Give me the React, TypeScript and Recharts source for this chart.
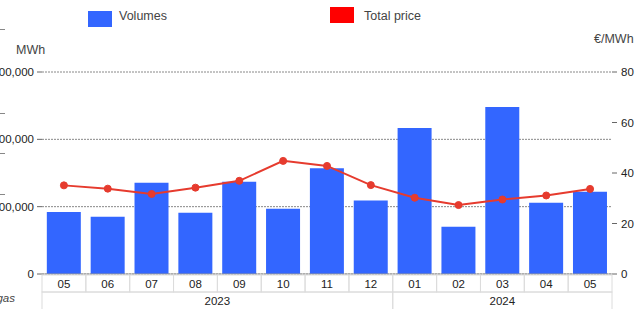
import React from "react";
import {
  ComposedChart,
  Bar,
  Line,
  XAxis,
  YAxis,
  CartesianGrid,
} from "recharts";

const months = ["05", "06", "07", "08", "09", "10", "11", "12", "01", "02", "03", "04", "05"];
const years = ["2023", "2023", "2023", "2023", "2023", "2023", "2023", "2023", "2024", "2024", "2024", "2024", "2024"];
const volumes = [92000, 85000, 135500, 91000, 137000, 97000, 157000, 109000, 217000, 70000, 248000, 106000, 122000];
const prices = [35.1, 33.8, 31.7, 34.2, 36.9, 44.8, 42.8, 35.2, 30.2, 27.3, 29.5, 31.1, 33.7];
const volumeTicks = [0, 100000, 200000, 300000];
const priceTicks = [0, 20, 40, 60, 80];

const W = 637;
const H = 309;
const LEFT_W = 42;
const RIGHT_W = 25;
const PLOT_W = W - LEFT_W - RIGHT_W;
const FONT = "'Liberation Sans', Arial, sans-serif";

const data = months.map((m, i) => ({
  key: i,
  month: m,
  year: years[i],
  volume: volumes[i],
  price: prices[i],
}));

function MonthTick(props: any) {
  const { x, y, payload } = props;
  const i = payload.index ?? props.index;
  const bw = PLOT_W / months.length;
  const yr = years[i];
  const first = i === 0 || years[i - 1] !== yr;
  let span = 0;
  if (first) {
    let j = i;
    while (j < years.length && years[j] === yr) {
      span++;
      j++;
    }
  }
  return (
    <g>
      <rect x={x - bw / 2} y={y + 1} width={bw} height={17} fill="none" stroke="#dcdcdc" />
      <text x={x} y={y + 14} textAnchor="middle" fontSize={11.5} fill="#222" fontFamily={FONT}>
        {months[i]}
      </text>
      {first && (
        <g>
          <rect x={x - bw / 2} y={y + 18} width={bw * span} height={20} fill="none" stroke="#dcdcdc" />
          <text
            x={x - bw / 2 + (bw * span) / 2}
            y={y + 31}
            textAnchor="middle"
            fontSize={11.5}
            fill="#222"
            fontFamily={FONT}
          >
            {yr}
          </text>
        </g>
      )}
    </g>
  );
}

const sideDashes = [29, 113, 153, 194];

export default function App() {
  return (
    <div
      style={{
        position: "absolute",
        left: 0,
        top: 0,
        width: W,
        height: H,
        overflow: "hidden",
        background: "#fff",
        fontFamily: FONT,
      }}
    >
      <ComposedChart
        width={W}
        height={H}
        data={data}
        margin={{ top: 72, right: 0, bottom: 0, left: 0 }}
        barCategoryGap="11%"
      >
        <CartesianGrid
          yAxisId="left"
          vertical={false}
          stroke="#888"
          strokeDasharray="2 1"
        />
        <XAxis
          dataKey="key"
          height={35}
          interval={0}
          tickSize={0}
          tickMargin={0}
          axisLine={{ stroke: "#999" }}
          tick={<MonthTick />}
        />
        <YAxis
          yAxisId="left"
          width={LEFT_W}
          domain={[0, 300000]}
          ticks={volumeTicks}
          tickFormatter={(v: number) => v.toLocaleString("en-US")}
          axisLine={false}
          tickSize={5}
          tickMargin={3}
          tickLine={{ stroke: "#666" }}
          tick={{ fill: "#222", fontSize: 11.5, fontFamily: FONT }}
        />
        <YAxis
          yAxisId="right"
          orientation="right"
          width={RIGHT_W}
          domain={[0, 80]}
          ticks={priceTicks}
          axisLine={false}
          tickSize={5}
          tickMargin={4}
          tickLine={{ stroke: "#666" }}
          tick={{ fill: "#222", fontSize: 11.5, fontFamily: FONT }}
        />
        <Bar yAxisId="left" dataKey="volume" fill="#3366ff" isAnimationActive={false} />
        <Line
          yAxisId="right"
          dataKey="price"
          type="linear"
          stroke="#e63b2e"
          strokeWidth={2}
          dot={{ r: 3.5, fill: "#e63b2e", stroke: "#e63b2e", strokeWidth: 1 }}
          isAnimationActive={false}
        />
      </ComposedChart>

      <div style={{ position: "absolute", left: 88, top: 11, width: 24, height: 16, background: "#3366ff" }} />
      <div style={{ position: "absolute", left: 119, top: 8, fontSize: 12.5, color: "#444", lineHeight: "16px" }}>
        Volumes
      </div>
      <div style={{ position: "absolute", left: 330, top: 7, width: 24, height: 16, background: "#ff0000" }} />
      <div style={{ position: "absolute", left: 364, top: 8, fontSize: 12.5, color: "#444", lineHeight: "16px" }}>
        Total price
      </div>
      <div style={{ position: "absolute", left: 16, top: 42, fontSize: 12.5, color: "#444", lineHeight: "16px" }}>
        MWh
      </div>
      <div style={{ position: "absolute", left: 594, top: 31, fontSize: 12.5, color: "#444", lineHeight: "16px" }}>
        €/MWh
      </div>
      <div
        style={{
          position: "absolute",
          left: -85,
          width: 100,
          top: 291,
          fontSize: 11.5,
          fontStyle: "italic",
          color: "#444",
          textAlign: "right",
          lineHeight: "14px",
        }}
      >
        Natural gas
      </div>
      {sideDashes.map((y) => (
        <div key={y} style={{ position: "absolute", left: 0, top: y, width: 5, height: 1, background: "#888" }} />
      ))}
    </div>
  );
}
